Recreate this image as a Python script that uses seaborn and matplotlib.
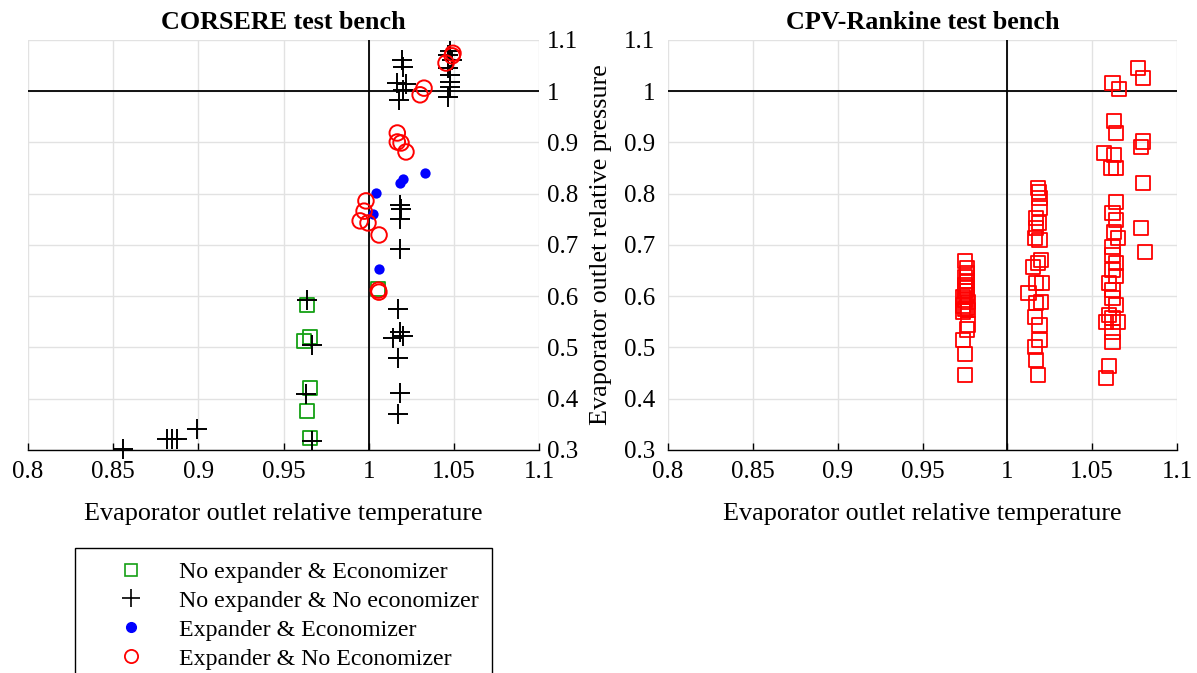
import matplotlib
matplotlib.use("Agg")
import matplotlib.pyplot as plt
import seaborn as sns
import pandas as pd
from matplotlib.lines import Line2D

# ---------------- data ----------------
# CORSERE test bench
noexp_eco_x = [0.964, 0.9655, 0.962, 0.9655, 0.964, 0.9655, 1.0055]
noexp_eco_y = [0.583, 0.520, 0.513, 0.421, 0.376, 0.323, 0.614]

noexp_noeco_x = [0.8558, 0.8816, 0.8845, 0.8875, 0.8992, 0.9667, 0.964, 0.9667, 0.963,
                 1.0172, 1.0143, 1.0184, 1.0202, 1.0172, 1.0184, 1.0172, 1.0184, 1.0184, 1.019, 1.0184,
                 1.0196, 1.0202, 1.0166, 1.0219, 1.0202, 1.0178,
                 1.048, 1.0466, 1.049, 1.0466, 1.048, 1.048, 1.0477, 1.0466]
noexp_noeco_y = [0.302, 0.3215, 0.3215, 0.3215, 0.341, 0.318, 0.593, 0.505, 0.409,
                 0.575, 0.518, 0.530, 0.522, 0.4795, 0.411, 0.370, 0.692, 0.778, 0.770, 0.751,
                 1.061, 1.047, 1.016, 1.014, 1.002, 0.983,
                 1.078, 1.070, 1.060, 1.045, 1.032, 1.018, 1.008, 0.989]

exp_eco_x = [1.0331, 1.0202, 1.0184, 1.0043, 1.0025, 1.0061]
exp_eco_y = [0.8405, 0.829, 0.821, 0.8015, 0.7605, 0.653]

exp_noeco_x = [0.9984, 0.9973, 0.995, 0.9996, 1.0061, 1.006, 1.0057, 1.0168, 1.0168, 1.019,
               1.0219, 1.0325, 1.0302, 1.0454, 1.049, 1.0495]
exp_noeco_y = [0.786, 0.766, 0.747, 0.743, 0.7195, 0.608, 0.612, 0.9185, 0.901, 0.899,
               0.8815, 1.006, 0.993, 1.055, 1.069, 1.074]

# CPV-Rankine test bench
cpv_x = [0.975, 0.976, 0.976, 0.975, 0.976, 0.975, 0.976, 0.975, 0.976, 0.974, 0.975, 0.977,
         0.974, 0.976, 0.977, 0.974, 0.975, 0.977, 0.976, 0.974, 0.975, 0.975,
         1.018, 1.0185, 1.019, 1.019, 1.017, 1.0185, 1.017, 1.0165, 1.019, 1.020, 1.015, 1.018,
         1.0205, 1.017, 1.0125, 1.017, 1.020, 1.0165, 1.019, 1.019, 1.0165, 1.017, 1.018,
         1.062, 1.066, 1.063, 1.064, 1.063, 1.057, 1.061, 1.064, 1.064, 1.062, 1.064, 1.063,
         1.065, 1.062, 1.062, 1.064, 1.062, 1.064, 1.060, 1.062, 1.062, 1.064, 1.060, 1.062,
         1.058, 1.065, 1.062, 1.062, 1.060, 1.058,
         1.077, 1.080, 1.080, 1.079, 1.080, 1.079, 1.081]
cpv_y = [0.668, 0.655, 0.645, 0.637, 0.630, 0.622, 0.615, 0.610, 0.603, 0.598, 0.592, 0.588,
         0.582, 0.578, 0.573, 0.570, 0.575, 0.545, 0.535, 0.515, 0.487, 0.447,
         0.811, 0.803, 0.792, 0.772, 0.753, 0.743, 0.733, 0.714, 0.710, 0.671, 0.657, 0.665,
         0.626, 0.626, 0.607, 0.587, 0.589, 0.560, 0.544, 0.515, 0.501, 0.476, 0.446,
         1.016, 1.004, 0.942, 0.918, 0.876, 0.879, 0.850, 0.850, 0.784, 0.762, 0.748, 0.725,
         0.714, 0.696, 0.680, 0.665, 0.651, 0.640, 0.626, 0.612, 0.597, 0.583, 0.563, 0.557,
         0.550, 0.550, 0.530, 0.510, 0.464, 0.440,
         1.045, 1.026, 0.902, 0.891, 0.821, 0.733, 0.686]

xticks = [0.8, 0.85, 0.9, 0.95, 1.0, 1.05, 1.1]
xticklabels = ["0.8", "0.85", "0.9", "0.95", "1", "1.05", "1.1"]
yticks = [0.3, 0.4, 0.5, 0.6, 0.7, 0.8, 0.9, 1.0, 1.1]
yticklabels = ["0.3", "0.4", "0.5", "0.6", "0.7", "0.8", "0.9", "1", "1.1"]

legend_labels = ["No expander & Economizer", "No expander & No economizer",
                 "Expander & Economizer", "Expander & No Economizer"]

# ---------------- style ----------------
sns.set_theme(style="white")
plt.rcParams["font.family"] = ["Liberation Serif", "DejaVu Serif"]
plt.rcParams["text.color"] = "black"
plt.rcParams["axes.labelcolor"] = "black"
plt.rcParams["axes.titlecolor"] = "black"
FS = 18.8
FS_TICK = 18.0
FS_LEG = 17.2
GREEN = "#14a014"

fig = plt.figure(figsize=(11.97, 6.73), dpi=100)
axL = fig.add_axes([0.0234, 0.3314, 0.4269, 0.6092])
axR = fig.add_axes([0.5581, 0.3314, 0.4252, 0.6092])


def style(ax):
    ax.set_xlim(0.8, 1.1)
    ax.set_ylim(0.3, 1.1)
    ax.set_xticks(xticks)
    ax.set_xticklabels(xticklabels)
    ax.set_yticks(yticks)
    ax.set_yticklabels(yticklabels)
    ax.set_axisbelow(True)
    ax.grid(True, color="#e2e2e2", lw=1.0)
    for s in ax.spines.values():
        s.set_visible(False)
    ax.spines["bottom"].set_visible(True)
    ax.spines["bottom"].set_color("black")
    ax.spines["bottom"].set_linewidth(1.0)
    ax.tick_params(axis="x", direction="in", length=5, width=1, colors="black",
                   labelsize=FS_TICK, pad=8, bottom=True)
    ax.tick_params(axis="y", length=0, labelsize=FS_TICK, colors="black")
    ax.axvline(1.0, color="black", lw=1.3, zorder=1.5)
    ax.axhline(1.0, color="black", lw=1.3, zorder=1.5)
    ax.set_xlabel("Evaporator outlet relative temperature", fontsize=FS, labelpad=14,
                  color="black")


style(axL)
style(axR)
axL.yaxis.tick_right()
axL.tick_params(axis="y", pad=6)
axR.tick_params(axis="y", pad=9)
axL.set_ylabel("")
axR.set_ylabel("Evaporator outlet relative pressure", fontsize=FS, labelpad=9, color="black")

axL.set_title("CORSERE test bench", fontsize=FS, fontweight="bold", pad=8, color="black")
axR.set_title("CPV-Rankine test bench", fontsize=FS, fontweight="bold", pad=8, color="black")

# ---------------- marks ----------------
sns.scatterplot(x=noexp_eco_x, y=noexp_eco_y, ax=axL, marker="s", s=100,
                facecolors="none", edgecolor=GREEN, linewidth=1.3, zorder=3,
                legend=False, clip_on=False)
sns.scatterplot(x=noexp_noeco_x, y=noexp_noeco_y, ax=axL, marker="+", s=210,
                color="black", linewidth=1.4, zorder=3, legend=False, clip_on=False)
sns.scatterplot(x=exp_eco_x, y=exp_eco_y, ax=axL, marker="o", s=55,
                color="#0000ff", edgecolor="#0000ff", linewidth=0, zorder=3,
                legend=False, clip_on=False)
sns.scatterplot(x=exp_noeco_x, y=exp_noeco_y, ax=axL, marker="o", s=125,
                facecolors="none", edgecolor="#ff0000", linewidth=1.4, zorder=3,
                legend=False, clip_on=False)

sns.scatterplot(x=cpv_x, y=cpv_y, ax=axR, marker="s", s=105,
                facecolors="none", edgecolor="#ff0000", linewidth=1.3, zorder=3,
                legend=False, clip_on=False)

# ---------------- legend ----------------
handles = [
    Line2D([], [], ls="none", marker="s", ms=9, mfc="none", mec=GREEN, mew=1.2),
    Line2D([], [], ls="none", marker="+", ms=13, color="black", mew=1.2),
    Line2D([], [], ls="none", marker="o", ms=7, mfc="#0000ff", mec="#0000ff"),
    Line2D([], [], ls="none", marker="o", ms=9.5, mfc="none", mec="#ff0000", mew=1.3),
]
leg = fig.legend(handles, legend_labels, loc="upper left",
                 bbox_to_anchor=(0.0627, 0.1857), bbox_transform=fig.transFigure,
                 frameon=True, fancybox=False, edgecolor="black", framealpha=1,
                 fontsize=FS_LEG, handlelength=3.6, handletextpad=0.2, borderpad=0.55,
                 labelspacing=0.3, borderaxespad=0)
leg.get_frame().set_linewidth(1.0)
for t in leg.get_texts():
    t.set_color("black")

fig.savefig("out.png", dpi=100)
